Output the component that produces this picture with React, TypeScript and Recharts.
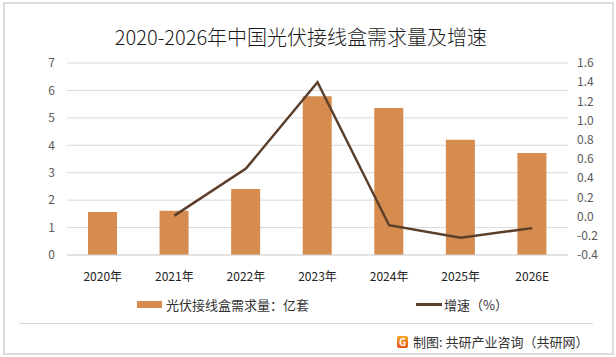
import React from 'react';
import { ComposedChart, Bar, Line, XAxis, YAxis, CartesianGrid, Legend } from 'recharts';

const categories = ['2020年', '2021年', '2022年', '2023年', '2024年', '2025年', '2026E'];
const demand = [1.57, 1.61, 2.41, 5.79, 5.36, 4.2, 3.72];
const growth: (number | null)[] = [null, 0.01, 0.5, 1.4, -0.09, -0.22, -0.12];
const leftTicks = [0, 1, 2, 3, 4, 5, 6, 7];
const rightTicks = [-0.4, -0.2, 0, 0.2, 0.4, 0.6, 0.8, 1.0, 1.2, 1.4, 1.6];

const barName = '光伏接线盒需求量：亿套';
const lineName = '增速（%）';
const title = '2020-2026年中国光伏接线盒需求量及增速';
const source = '制图: 共研产业咨询（共研网）';

const data = categories.map((c, i) => ({ name: c, demand: demand[i], growth: growth[i] }));

const FONT = '"Noto Sans CJK SC", "Noto Sans", sans-serif';
const BAR_COLOR = '#D58C4E';
const LINE_COLOR = '#5C3F2B';

const LegendContent = () => (
  <div style={{ position: 'relative', width: 616, height: 24, fontFamily: FONT, fontSize: 13, color: '#333' }}>
    <div style={{ position: 'absolute', left: 137, top: 9, width: 25, height: 7, background: BAR_COLOR }} />
    <div style={{ position: 'absolute', left: 166, top: 4, lineHeight: '17px', whiteSpace: 'nowrap' }}>{barName}</div>
    <div style={{ position: 'absolute', left: 416, top: 11, width: 26, height: 3, background: LINE_COLOR }} />
    <div style={{ position: 'absolute', left: 444, top: 4, lineHeight: '17px', whiteSpace: 'nowrap' }}>{lineName}</div>
  </div>
);

export default function App() {
  return (
    <div style={{ position: 'absolute', left: 0, top: 0, width: 616, height: 357, background: '#fff', overflow: 'hidden' }}>
      <div style={{ position: 'absolute', left: 3, top: 2, width: 607, height: 349, border: '2px solid #dcdcdc' }} />
      <div style={{ position: 'absolute', left: 0, top: 23, width: 602, textAlign: 'center', fontFamily: FONT, fontSize: 20, fontWeight: 300, lineHeight: '28px', color: '#1a1a1a' }}>
        {title}
      </div>
      <div style={{ position: 'absolute', left: 19, top: 323, width: 574, height: 1, background: '#d6d6d6' }} />
      <div style={{ position: 'absolute', left: 397, top: 336, width: 11, height: 12, borderRadius: 2, background: 'linear-gradient(#f5a623, #e8501c)', color: '#fff', fontFamily: FONT, fontSize: 10, fontWeight: 700, lineHeight: '12px', textAlign: 'center' }}>G</div>
      <div style={{ position: 'absolute', left: 413, top: 333, fontFamily: FONT, fontSize: 13, lineHeight: '18px', color: '#333', whiteSpace: 'nowrap' }}>
        {source}
      </div>
      <div style={{ position: 'absolute', left: 0, top: 0 }}>
        <ComposedChart width={616} height={357} data={data} margin={{ top: 63, right: 0, left: 0, bottom: 72 }}>
          <CartesianGrid yAxisId="left" vertical={false} stroke="#d9d9d9" />
          <XAxis
            dataKey="name"
            height={30}
            tickLine={false}
            tickSize={0}
            tickMargin={17}
            axisLine={{ stroke: '#d9d9d9' }}
            tick={{ fill: '#222', fontSize: 12, fontFamily: FONT }}
            interval={0}
          />
          <YAxis
            yAxisId="left"
            width={67}
            domain={[0, 7]}
            ticks={leftTicks}
            interval={0}
            axisLine={false}
            tickLine={false}
            tickSize={0}
            tickMargin={12}
            tick={{ fill: '#595959', fontSize: 12, fontFamily: FONT }}
          />
          <YAxis
            yAxisId="right"
            orientation="right"
            width={48}
            domain={[-0.4, 1.6]}
            ticks={rightTicks}
            interval={0}
            axisLine={false}
            tickLine={false}
            tickSize={0}
            tickMargin={9}
            tickFormatter={(v: number) => v.toFixed(1)}
            tick={{ fill: '#595959', fontSize: 12, fontFamily: FONT, textAnchor: 'start' }}
          />
          <Bar yAxisId="left" dataKey="demand" name={barName} fill={BAR_COLOR} barSize={29} isAnimationActive={false} />
          <Line
            yAxisId="right"
            dataKey="growth"
            name={lineName}
            stroke={LINE_COLOR}
            strokeWidth={2.5}
            dot={false}
            activeDot={false}
            type="linear"
            connectNulls={false}
            isAnimationActive={false}
          />
          <Legend
            layout="horizontal"
            verticalAlign="middle"
            align="center"
            content={LegendContent}
            wrapperStyle={{ position: 'absolute', left: 0, top: 292, width: 616, height: 24 }}
          />
        </ComposedChart>
      </div>
    </div>
  );
}
